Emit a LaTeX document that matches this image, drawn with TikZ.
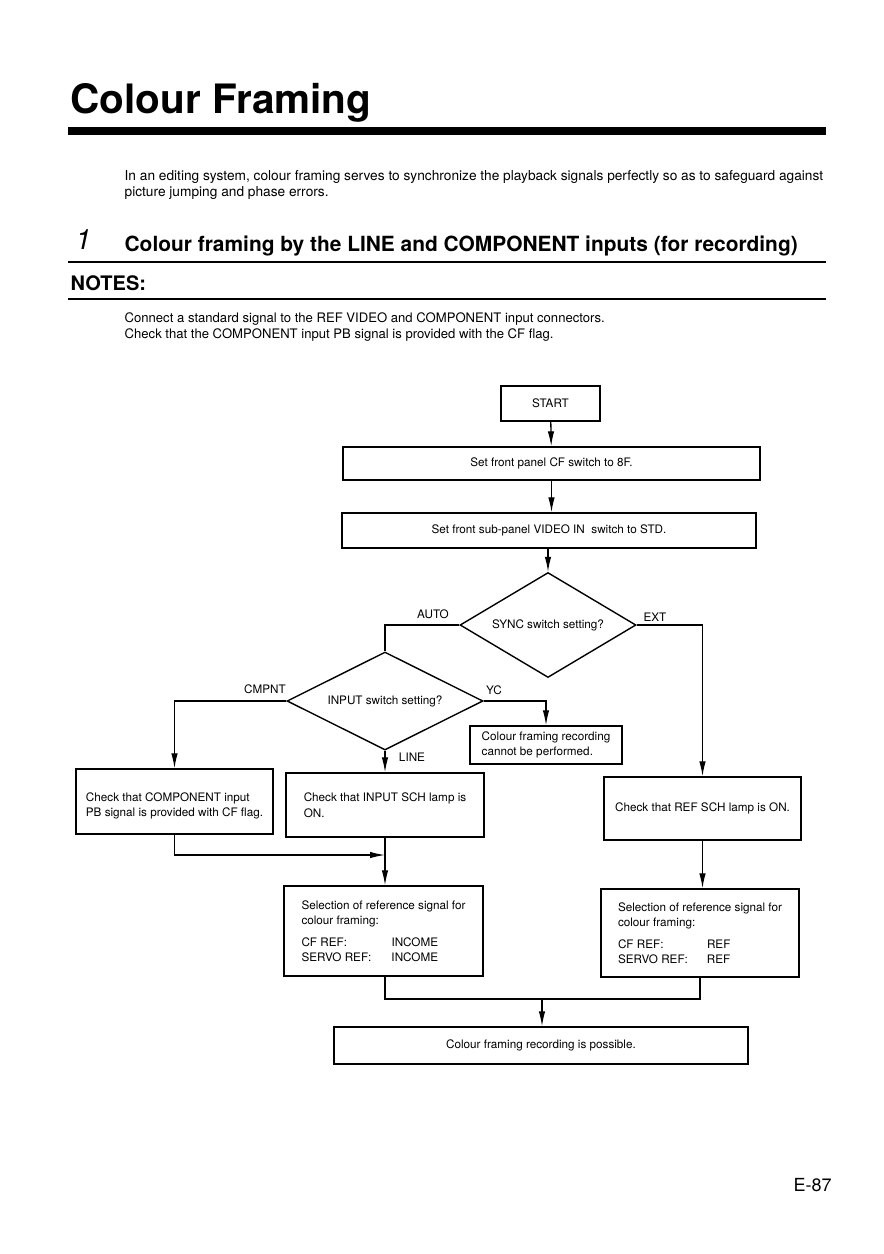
\documentclass[tikz,border=0pt]{standalone}
\usepackage{fontspec}
\setmainfont{TeX Gyre Heros}
\usetikzlibrary{shapes.geometric,arrows.meta,positioning}
\tikzset{
  box/.style={rectangle, draw, line width=1.4pt, align=left, font=\fontsize{11.7}{15.5}\selectfont},
  decision/.style={diamond, draw, line width=1.4pt, inner sep=0pt, font=\fontsize{11.7}{15}\selectfont},
  branch/.style={inner sep=0pt, font=\fontsize{11.7}{13}\selectfont},
  rule/.style={line width=1.4pt}
}
\begin{document}
\begin{tikzpicture}[x=1pt, y=-1pt, >={Latex[length=15pt,width=6.5pt]}, line width=1.3pt]
\useasboundingbox (0,0) rectangle (884,1254);
% page head
\node (title) [anchor=base west, inner sep=0pt, font=\fontsize{40.5}{42}\bfseries\selectfont] at (70,113) {Colour Framing};
\fill (68,127) rectangle (826,135);
\node (intro) [anchor=north west, inner sep=0pt, align=left, font=\fontsize{13.7}{15.5}\selectfont] at (124,170) {In an editing system, colour framing serves to synchronize the playback signals perfectly so as to safeguard against\\picture jumping and phase errors.};
\node (num) [anchor=base west, inner sep=0pt, font=\fontsize{28}{30}\itshape\selectfont] at (75,249) {1};
\node (heading) [anchor=base west, inner sep=0pt, font=\fontsize{20.9}{22}\bfseries\selectfont] at (124,251) {Colour framing by the LINE and COMPONENT inputs (for recording)};
\draw[rule] (68,262) -- (826,262);
\node (notes) [anchor=base west, inner sep=0pt, font=\fontsize{20}{22}\bfseries\selectfont] at (70,290) {NOTES:};
\draw[rule] (68,299) -- (826,299);
\node (notetext) [anchor=north west, inner sep=0pt, align=left, font=\fontsize{13.1}{16}\selectfont] at (124,312) {Connect a standard signal to the REF VIDEO and COMPONENT input connectors.\\Check that the COMPONENT input PB signal is provided with the CF flag.};

% flow chart
\node (start) [box, minimum width=99pt, minimum height=35pt] at (550.5,403.5) {START};
\node (cf8f) [box, minimum width=417pt, minimum height=33pt] at (551.5,463.5) {Set front panel CF switch to 8F.};
\node (vidstd) [box, minimum width=414pt, minimum height=35pt] at (549,530.5) {Set front sub-panel VIDEO IN\ \ switch to STD.};
\node (sync) [decision, aspect=1.7, minimum width=176pt, minimum height=105pt] at (548,625) {SYNC switch setting?};
\node (input) [decision, aspect=2, minimum width=196pt, minimum height=98pt] at (385,701) {INPUT switch setting?};
\node (nocf) [box, inner ysep=3pt, minimum width=152pt, minimum height=38pt] at (546,745) {Colour framing recording\\cannot be performed.};
\node (chkcomp) [box, inner ysep=3pt, minimum width=197pt, minimum height=65pt] at (174.5,801.5) {\rule{0pt}{18pt}Check that COMPONENT input\\PB signal is provided with CF flag.};
\node (chkinput) [box, inner ysep=3pt, minimum width=198pt, minimum height=64pt] at (385,805) {Check that INPUT SCH lamp is\\ON.};
\node (chkref) [box, minimum width=197pt, minimum height=63pt] at (702.5,808.5) {Check that REF SCH lamp is ON.};
\node (sel1) [box, inner ysep=3pt, minimum width=199pt, minimum height=90pt] at (383.5,931) {Selection of reference signal for\\colour framing:\\[6pt]\makebox[90pt][l]{CF REF:}INCOME\\\makebox[90pt][l]{SERVO REF:}INCOME};
\node (sel2) [box, inner ysep=3pt, minimum width=198pt, minimum height=88pt] at (700,933) {Selection of reference signal for\\colour framing:\\[6pt]\makebox[89pt][l]{CF REF:}REF\\\makebox[89pt][l]{SERVO REF:}REF};
\node (final) [box, minimum width=414pt, minimum height=37pt] at (541,1045.5) {Colour framing recording is possible.};

% branch labels
\node (auto) [branch] at (433,614) {AUTO};
\node (ext) [branch] at (655,617) {EXT};
\node (cmpnt) [branch] at (265,689) {CMPNT};
\node (yc) [branch] at (494,690) {YC};
\node (line) [branch] at (412,757) {LINE};

\coordinate (join) at (385,855);
\coordinate (merge) at (542,999);

\draw[->] (start) -- (cf8f);
\draw[->] (cf8f.south) -- (cf8f.south |- vidstd.north);
\draw[->] (vidstd.south) -- (vidstd.south -| sync.north) -- (sync.north);
\draw (sync.west) -| (input.north);
\draw[->] (sync.east) -| (chkref.north);
\draw[->] (input.west) -| (chkcomp.north);
\draw[->] (input.east) -| (nocf.north);
\draw[->] (input.south) -- (chkinput.north);
\draw[->] (chkcomp.south) |- (join);
\draw[->] (chkinput.south) -- (sel1.north -| chkinput.south);
\draw[->] (chkref.south) -- (chkref.south |- sel2.north);
\draw (sel1.south -| chkinput.south) |- (merge) -| (sel2.south);
\draw[->] (merge) -- (final.north -| merge);

\node (page) [anchor=base west, inner sep=0pt, font=\fontsize{18}{20}\selectfont] at (793,1191) {E-87};
\end{tikzpicture}
\end{document}
